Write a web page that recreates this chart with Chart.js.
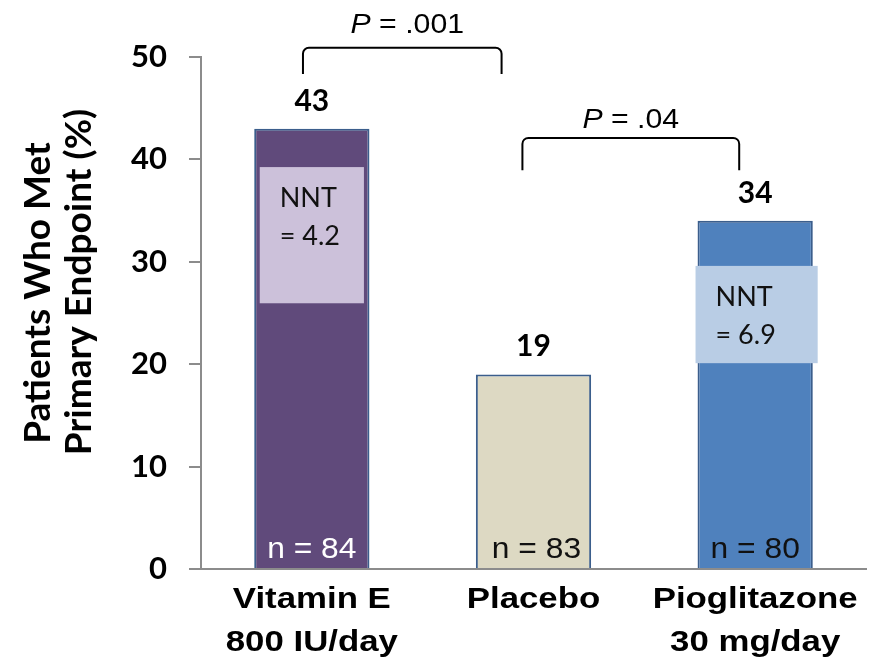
<!DOCTYPE html>
<html>
<head>
<meta charset="utf-8">
<script src="https://cdn.jsdelivr.net/npm/chart.js@4.4.1/dist/chart.umd.min.js"></script>
<style>
  html, body { margin: 0; padding: 0; background: #ffffff; }
  #wrap { width: 871px; height: 660px; position: relative; }
</style>
</head>
<body>
<div id="wrap"><canvas id="chart" width="871" height="660"></canvas></div>
<script>
// Treatment groups and outcomes
const categories = [['Vitamin E', '800 IU/day'], ['Placebo'], ['Pioglitazone', '30 mg/day']];
const percentMet = [43, 19, 34];
const sampleSizes = [84, 83, 80];
const nntValues = [4.2, null, 6.9];
const yTicks = [0, 10, 20, 30, 40, 50];
const pValues = ['.001', '.04'];

// Styling
const barColors = ['#604A7B', '#DDD9C3', '#4F81BD'];
const nntFill = ['#CCC1DA', null, '#B9CDE5'];
const nLabelColors = ['#FFFFFF', '#111111', '#111111'];
const axisGray = '#8C8C8C';
const CAL = 'Lato, "Open Sans", sans-serif';
const ARI = '"Liberation Sans", Arial, sans-serif';

// Comparison brackets (x in category units, y in percent units)
const brackets = [
  { x0: -0.04, x1: 0.856, top: 50.9, foot: 48.35, labelY: 52.3 },
  { x0: 0.95, x1: 1.928, top: 42.1, foot: 38.95, labelY: 43.1 }
];
// NNT call-out boxes placed on their bars
const nntBoxes = [
  { cat: 0, x0: -0.235, x1: 0.235, top: 39.25, bottom: 25.95 },
  { cat: 2, x0: -0.269, x1: 0.282, top: 29.6, bottom: 20.1 }
];

function text(ctx, str, x, y, font, color, align, sx) {
  ctx.save();
  ctx.font = font;
  ctx.fillStyle = color;
  ctx.textBaseline = 'alphabetic';
  ctx.textAlign = align || 'center';
  ctx.translate(x, y);
  ctx.scale(sx || 1, 1);
  ctx.fillText(str, 0, 0);
  ctx.restore();
}

function rotatedLine(ctx, str, x, y, font) {
  ctx.save();
  ctx.fillStyle = '#000';
  ctx.font = font;
  ctx.textAlign = 'center';
  ctx.textBaseline = 'alphabetic';
  ctx.translate(x, y);
  ctx.rotate(-Math.PI / 2);
  ctx.fillText(str, 0, 0);
  ctx.restore();
}

const annotate = {
  id: 'annotate',
  afterDatasetsDraw(chart) {
    const ctx = chart.ctx;
    const xs = chart.scales.x, ys = chart.scales.y;
    const meta = chart.getDatasetMeta(0);

    // NNT boxes
    nntBoxes.forEach(b => {
      const l = xs.getPixelForValue(b.cat + b.x0);
      const r = xs.getPixelForValue(b.cat + b.x1);
      const t = ys.getPixelForValue(b.top);
      const btm = ys.getPixelForValue(b.bottom);
      ctx.fillStyle = nntFill[b.cat];
      ctx.fillRect(l, t, r - l, btm - t);
      const tx = l + 20;
      text(ctx, 'NNT', tx, t + 40, '400 27px ' + CAL, '#111', 'left');
      text(ctx, '= ' + nntValues[b.cat].toFixed(1), tx, t + 78, '400 27px ' + CAL, '#111', 'left');
    });

    meta.data.forEach((bar, i) => {
      // value above bar
      text(ctx, String(percentMet[i]), bar.x, bar.y - 18, 'bold 30px ' + CAL, '#000', 'center');
      // sample size inside bar
      text(ctx, 'n = ' + sampleSizes[i], bar.x + (i === 1 ? 3 : 0), ys.getPixelForValue(0) - 11,
           '400 30px ' + ARI, nLabelColors[i], 'center', 1.06);
      // category labels
      categories[i].forEach((ln, k) => {
        text(ctx, ln, bar.x, 608 + k * 43, 'bold 30px ' + ARI, '#000', 'center', 1.16);
      });
    });

    // brackets with P values
    ctx.save();
    ctx.strokeStyle = '#000';
    ctx.lineWidth = 2;
    brackets.forEach((b, i) => {
      const x0 = xs.getPixelForValue(b.x0), x1 = xs.getPixelForValue(b.x1);
      const top = ys.getPixelForValue(b.top), foot = ys.getPixelForValue(b.foot);
      const r = 6;
      ctx.beginPath();
      ctx.moveTo(x0, foot);
      ctx.arcTo(x0, top, x0 + r, top, r);
      ctx.arcTo(x1, top, x1, top + r, r);
      ctx.lineTo(x1, foot);
      ctx.stroke();

      const cx = (x0 + x1) / 2 + (i === 0 ? 5 : 0);
      const y = ys.getPixelForValue(b.labelY);
      const fItal = 'italic 28px ' + ARI, fReg = '400 28px ' + ARI;
      ctx.font = fItal; const wP = ctx.measureText('P').width * 1.08;
      ctx.font = fReg; const rest = ' = ' + pValues[i]; const wR = ctx.measureText(rest).width * 1.08;
      const start = cx - (wP + wR) / 2;
      text(ctx, 'P', start, y, fItal, '#000', 'left', 1.08);
      text(ctx, rest, start + wP, y, fReg, '#000', 'left', 1.08);
    });
    ctx.restore();

    // y-axis title
    rotatedLine(ctx, 'Patients Who Met', 50, 293, 'bold 37px ' + CAL);
    rotatedLine(ctx, 'Primary Endpoint (%)', 91, 282, 'bold 37px ' + CAL);
  }
};

new Chart(document.getElementById('chart'), {
  type: 'bar',
  data: {
    labels: categories,
    datasets: [{
      data: percentMet,
      backgroundColor: barColors,
      borderColor: '#3B5E8C',
      borderWidth: 2,
      barPercentage: 0.52,
      categoryPercentage: 1
    }]
  },
  options: {
    responsive: false,
    animation: false,
    devicePixelRatio: 1,
    layout: { padding: { top: 57, right: 5, left: 0, bottom: 0 } },
    plugins: { legend: { display: false }, tooltip: { enabled: false } },
    scales: {
      x: {
        grid: { display: false },
        border: { display: true, color: axisGray, width: 2 },
        ticks: { display: false },
        afterFit: s => { s.height = 91; }
      },
      y: {
        min: 0, max: 50,
        afterBuildTicks: s => { s.ticks = yTicks.map(v => ({ value: v })); },
        ticks: { padding: 22, color: '#000', font: { family: CAL, size: 31, weight: 'bold' } },
        grid: { drawOnChartArea: false, tickLength: 12, color: axisGray, lineWidth: 2 },
        border: { display: true, color: axisGray, width: 2 },
        afterFit: s => { s.width = 201; }
      }
    }
  },
  plugins: [annotate]
});
</script>
</body>
</html>
